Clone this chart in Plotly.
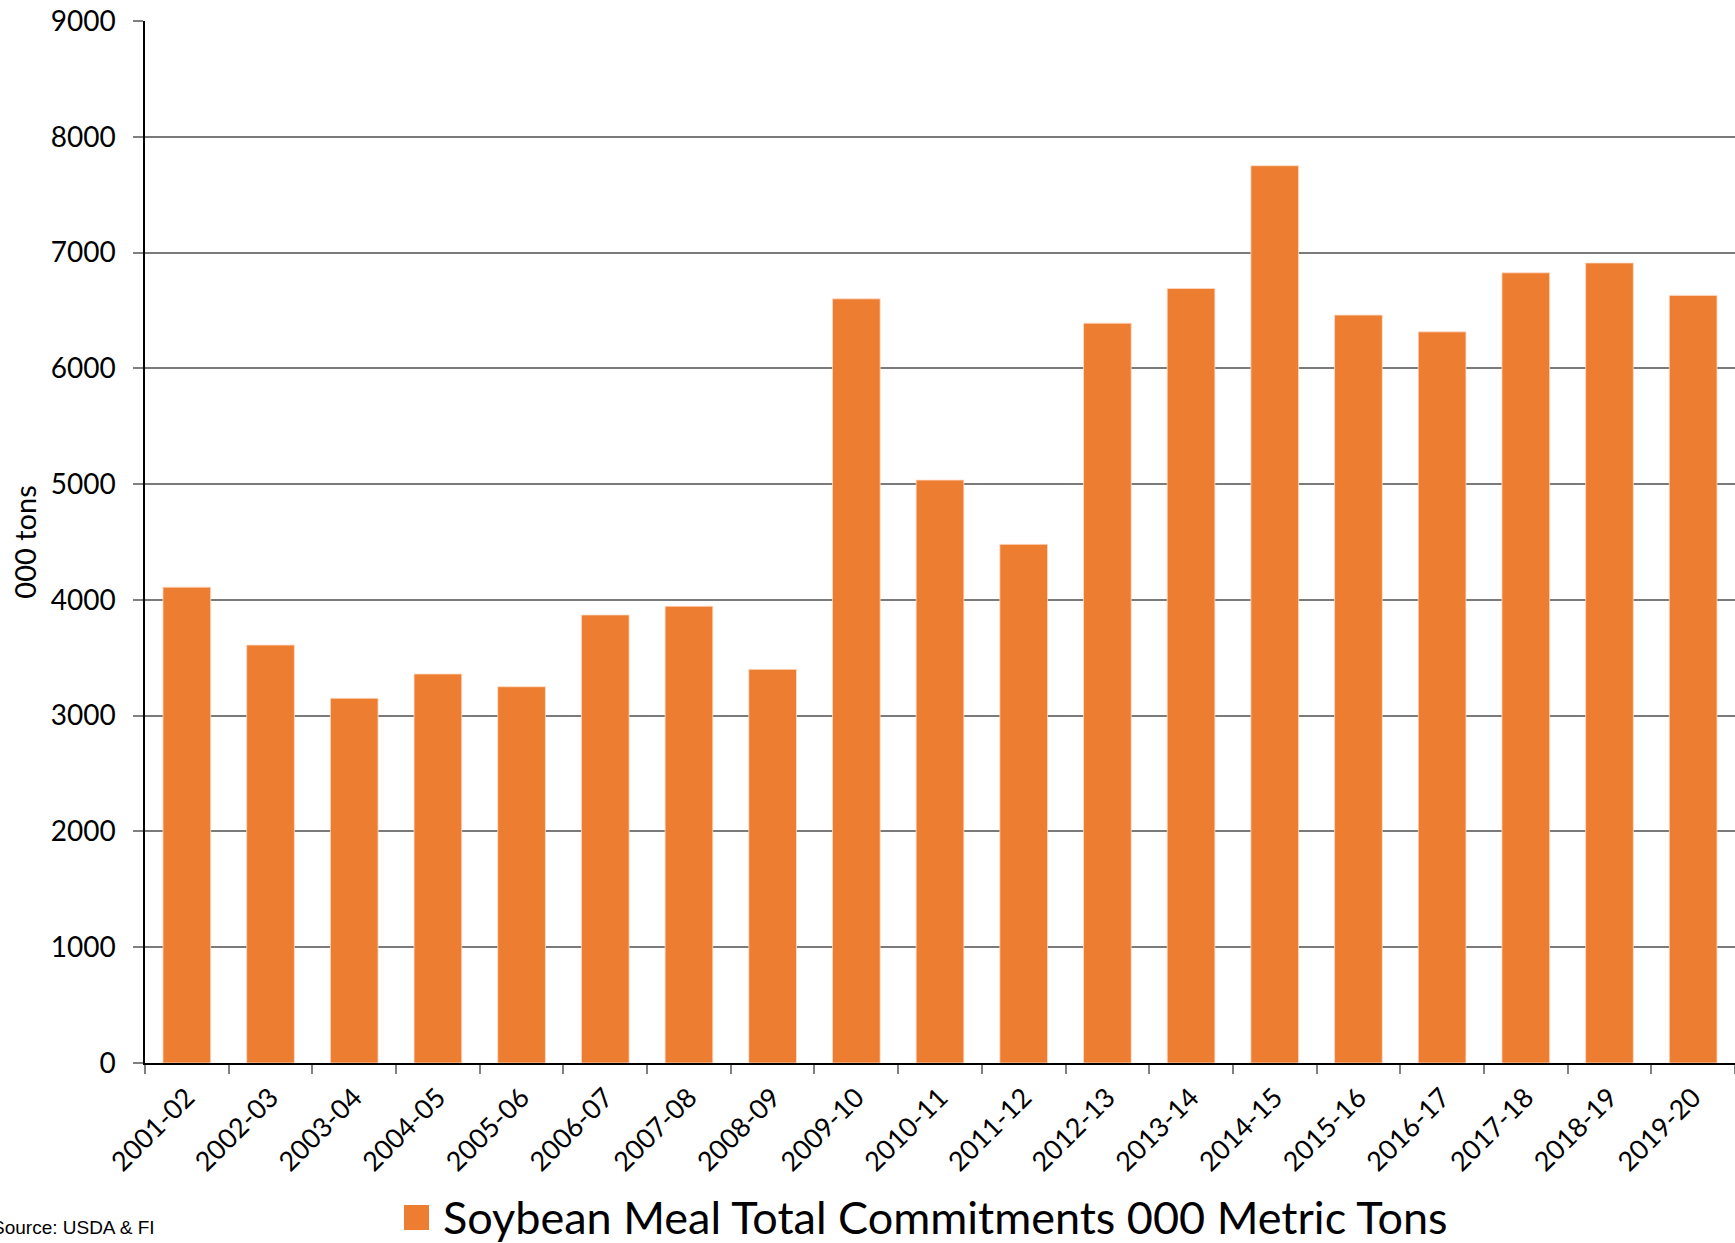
import plotly.graph_objects as go

categories = ["2001-02", "2002-03", "2003-04", "2004-05", "2005-06", "2006-07",
              "2007-08", "2008-09", "2009-10", "2010-11", "2011-12", "2012-13",
              "2013-14", "2014-15", "2015-16", "2016-17", "2017-18", "2018-19",
              "2019-20"]
commitments = [4110, 3610, 3150, 3360, 3250, 3870, 3945, 3400, 6600, 5035,
               4480, 6390, 6690, 7750, 6460, 6315, 6825, 6910, 6630]
y_ticks = [0, 1000, 2000, 3000, 4000, 5000, 6000, 7000, 8000, 9000]

series_name = "Soybean Meal Total Commitments 000 Metric Tons"
ORANGE = "#ED7D31"
FONT = "Lato"

fig = go.Figure()
fig.add_trace(go.Bar(
    x=categories, y=commitments, name=series_name,
    marker=dict(color=ORANGE, line=dict(color="rgba(255,220,200,0.8)", width=1)),
    width=0.57, showlegend=False,
))

fig.update_layout(
    width=1735, height=1243,
    paper_bgcolor="white", plot_bgcolor="white",
    margin=dict(l=145, r=0, t=21, b=180, autoexpand=False),
    font=dict(family=FONT, color="black", size=27),
    showlegend=False,
)

fig.update_xaxes(
    type="category", tickangle=-45, tickfont=dict(family=FONT, size=27),
    showline=True, linecolor="black", linewidth=2,
    ticks="outside", ticklen=9, tickcolor="#808080", tickwidth=2,
    tickson="boundaries", showgrid=False, ticklabelstandoff=6,
)
fig.update_yaxes(
    range=[0, 9000], tickvals=y_ticks, tickfont=dict(family=FONT, size=28),
    showline=True, linecolor="black", linewidth=1.5,
    ticks="outside", ticklen=10, tickcolor="#808080", tickwidth=1.5,
    ticklabelstandoff=12,
    showgrid=True, gridcolor="#7a7a7a", gridwidth=1.5, zeroline=False,
    title=dict(text="000 tons", font=dict(family=FONT, size=29), standoff=6),
)

# legend (square swatch + label) below the plot
fig.add_shape(type="rect", xref="paper", yref="paper",
              x0=0.1629, x1=0.1786, y0=-0.1603, y1=-0.1363,
              fillcolor=ORANGE, line=dict(width=0))
fig.add_annotation(
    text=series_name, xref="paper", yref="paper",
    x=0.1862, y=-0.1478, xanchor="left", yanchor="middle", showarrow=False,
    font=dict(family=FONT, size=45, color="black"),
)

fig.add_annotation(
    text="Source: USDA & FI", xref="paper", yref="paper",
    x=0.0075, y=-0.158, xanchor="right", yanchor="middle", showarrow=False,
    font=dict(family="Liberation Sans", size=19, color="black"),
)

fig.write_html("out.html", config={"displayModeBar": False},
               post_script="document.body.style.margin='0';document.body.style.overflow='hidden';")
